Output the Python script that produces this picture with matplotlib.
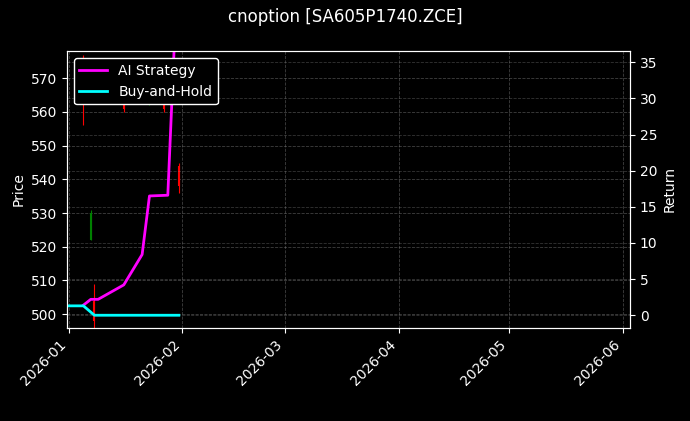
import matplotlib
matplotlib.use("Agg")
import matplotlib.pyplot as plt
import matplotlib.dates as mdates
import pandas as pd

# candles
c_dates = pd.to_datetime(["2026-01-05","2026-01-07","2026-01-08","2026-01-16","2026-01-23","2026-01-27","2026-01-31"])
c_open  = [573, 522, 504, 562, 563, 563, 544]
c_close = [564, 530, 498, 561, 564, 561, 538]
c_high  = [577, 531, 509, 562.5, 565, 563.5, 545]
c_low   = [556, 522, 496, 560, 562, 560, 536]

ai_dates = pd.to_datetime(["2026-01-05","2026-01-07","2026-01-09","2026-01-16","2026-01-21","2026-01-23","2026-01-28","2026-01-30"])
ai_vals = [1.4, 2.2, 2.2, 4.2, 8.4, 16.5, 16.6, 40]
bh_dates = pd.to_datetime(["2025-12-31","2026-01-05","2026-01-08","2026-01-31"])
bh_vals = [1.3, 1.3, 0.0, 0.0]

plt.style.use("dark_background")
fig, ax = plt.subplots(figsize=(6.9, 4.21), dpi=100)
fig.patch.set_facecolor("black"); ax.set_facecolor("black")
for d, o, c, h, l in zip(c_dates, c_open, c_close, c_high, c_low):
    col = "green" if c >= o else "red"
    ax.vlines(d, l, h, color=col, linewidth=0.8)
    ax.vlines(d, min(o, c), max(o, c), color=col, linewidth=1.5)
ax.set_ylim(496, 578)
ax.set_ylabel("Price")
ax.grid(True, linestyle="--", color="gray", alpha=0.5, linewidth=0.6)
ax.set_xlim(pd.Timestamp("2025-12-31 12:00"), pd.Timestamp("2026-06-03"))
ax.xaxis.set_major_locator(mdates.MonthLocator())
ax.xaxis.set_major_formatter(mdates.DateFormatter("%Y-%m"))
plt.setp(ax.get_xticklabels(), rotation=45, ha="right")

ax2 = ax.twinx()
ax2.plot(ai_dates, ai_vals, color="magenta", linewidth=2, label="AI Strategy")
ax2.plot(bh_dates, bh_vals, color="cyan", linewidth=2, label="Buy-and-Hold")
ax2.set_ylim(-1.7, 36.5)
ax2.set_ylabel("Return")
ax2.grid(True, linestyle="--", color="gray", alpha=0.4, linewidth=0.6)
ax2.legend(loc="upper left", facecolor="black", edgecolor="white", framealpha=1)
fig.suptitle("cnoption [SA605P1740.ZCE]")
fig.subplots_adjust(left=0.097, right=0.913, top=0.878, bottom=0.222)
fig.savefig("out.png")
